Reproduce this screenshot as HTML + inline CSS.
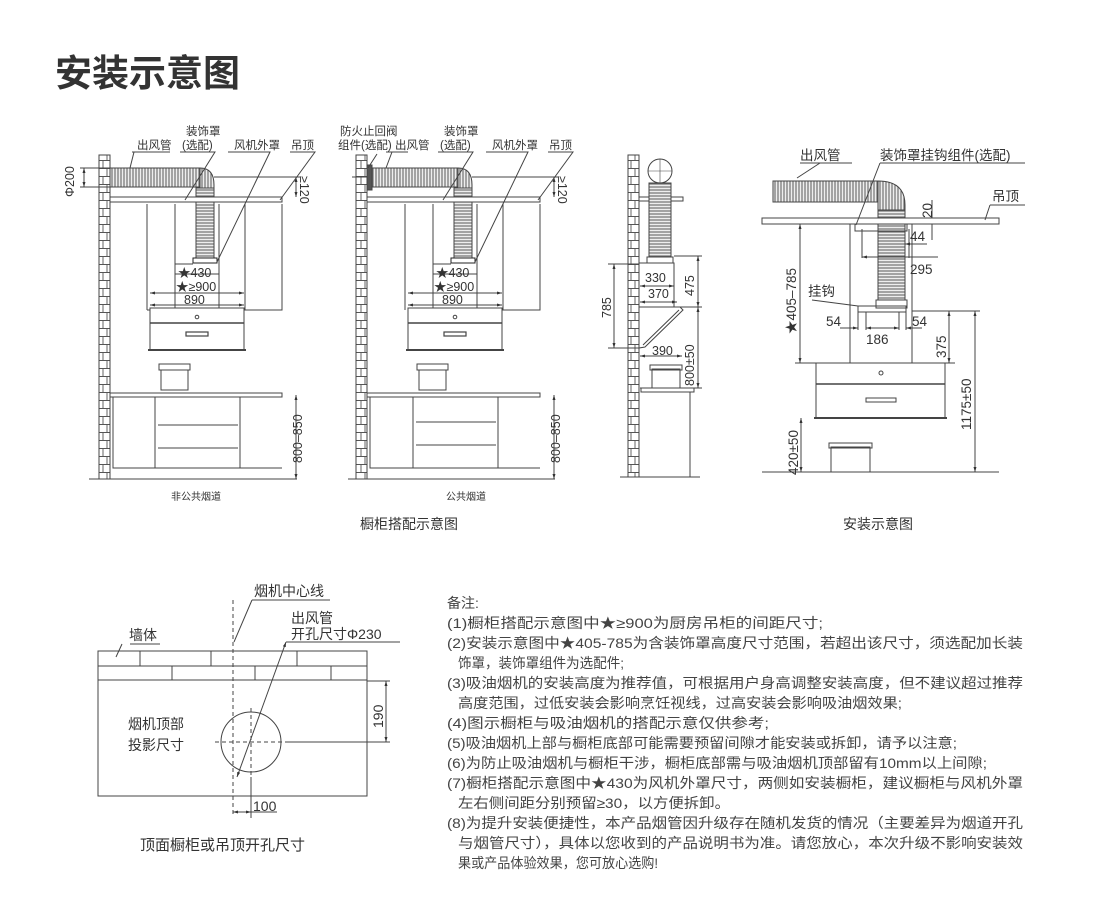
<!DOCTYPE html>
<html><head><meta charset="utf-8"><style>
html,body{margin:0;padding:0;background:#fff;}
svg{display:block;font-family:"Liberation Sans","Noto Sans CJK SC",sans-serif;}
</style></head><body>
<svg width="1100" height="908" viewBox="0 0 1100 908" xmlns="http://www.w3.org/2000/svg">
<defs>
<pattern id="brick" x="0" y="0" width="11" height="16" patternUnits="userSpaceOnUse">
<rect width="11" height="16" fill="#fff"/>
<path d="M0 0.5H11M0 8.5H11M4 0V8M8 8V16" stroke="#555" stroke-width="0.9" fill="none"/>
</pattern>
<pattern id="ribH" width="3" height="10" patternUnits="userSpaceOnUse">
<rect width="3" height="10" fill="#eee"/><path d="M1 0V10" stroke="#666" stroke-width="1.1"/>
</pattern>
<pattern id="ribV" width="10" height="3" patternUnits="userSpaceOnUse">
<rect width="10" height="3" fill="#eee"/><path d="M0 1H10" stroke="#666" stroke-width="1.1"/>
</pattern>
<marker id="a" viewBox="0 0 10 10" refX="10" refY="5" markerWidth="5" markerHeight="5" orient="auto-start-reverse"><path d="M0 2L10 5L0 8z" fill="#333"/></marker>
</defs>

<text x="55" y="86" font-size="37" font-weight="bold" fill="#333">安装示意图</text>

<g id="d1" stroke="#444" stroke-width="1" fill="none">
<rect x="99" y="155" width="11" height="324" fill="url(#brick)"/>
<line x1="89" y1="479" x2="297" y2="479"/>
<rect x="110" y="168" width="90" height="19" fill="url(#ribH)"/>
<path d="M200 168 Q214 168 214 185 L214 188 L196 188 L196 187 L200 187 Z" fill="url(#ribH)"/>
<rect x="196" y="188" width="18" height="70" fill="url(#ribV)"/>
<rect x="193" y="258" width="24" height="5" fill="#fff" stroke="#222"/>
<rect x="110" y="197" width="172" height="5" fill="#fff"/>
<path d="M147 204V310M147 310H150M175 204V308M219 204V308M245 204V310H282V204"/>
<path d="M175 264H193M175 274H219"/>
<line x1="150" y1="293" x2="244" y2="293" marker-start="url(#a)" marker-end="url(#a)"/>
<line x1="150" y1="305" x2="244" y2="305" marker-start="url(#a)" marker-end="url(#a)"/>
<rect x="150" y="308" width="94" height="42" fill="#fff"/>
<line x1="150" y1="323" x2="244" y2="323" stroke-width="1.6"/>
<line x1="148" y1="350" x2="246" y2="350" stroke-width="2"/>
<circle cx="197" cy="317" r="1.8"/>
<rect x="186" y="332" width="22" height="4" stroke-width="1.2"/>
<rect x="161" y="370" width="27" height="20"/><rect x="159" y="364" width="31" height="6"/>
<rect x="110" y="393" width="172" height="4" fill="#fff"/>
<path d="M113 397V468H282M155 397V468M240 397V468M158 425H238M158 448H238"/>
<line x1="296" y1="395" x2="296" y2="479" marker-start="url(#a)" marker-end="url(#a)"/>
<line x1="80" y1="168" x2="110" y2="168"/><line x1="80" y1="187" x2="110" y2="187"/>
<line x1="84" y1="168" x2="84" y2="187" marker-start="url(#a)" marker-end="url(#a)"/>
<line x1="214" y1="177" x2="300" y2="177"/>
<line x1="296" y1="177" x2="296" y2="197" marker-start="url(#a)" marker-end="url(#a)"/>
<path d="M132 152H170M134 152L130 168M180 152H215L185 200M228 152H270L217 262M290 152H315L280 200"/>
</g>
<g font-size="11.5" fill="#333">
<text x="137" y="149">出风管</text>
<text x="186" y="135">装饰罩</text><text x="182" y="149">(选配)</text>
<text x="234" y="149">风机外罩</text><text x="291" y="149">吊顶</text>
<text transform="translate(74,197) rotate(-90)" font-size="12.5">Φ200</text>
<text transform="translate(300,176) rotate(90)" font-size="12.5">≥120</text>
<g font-size="12.5"><text x="178" y="277">★430</text><text x="176" y="291">★≥900</text><text x="184" y="304">890</text>
<text transform="translate(302,463) rotate(-90)">800–850</text></g>
<text x="171" y="500" font-size="10">非公共烟道</text>
</g>

<g transform="translate(258,0)">
<g stroke="#444" stroke-width="1" fill="none">
<rect x="98" y="155" width="11" height="324" fill="url(#brick)"/>
<line x1="90" y1="479" x2="297" y2="479"/>
<rect x="109" y="165" width="5" height="25" fill="#555"/>
<rect x="114" y="168" width="86" height="19" fill="url(#ribH)"/>
<path d="M200 168 Q214 168 214 185 L214 188 L196 188 L196 187 L200 187 Z" fill="url(#ribH)"/>
<rect x="196" y="188" width="18" height="70" fill="url(#ribV)"/>
<rect x="193" y="258" width="24" height="5" fill="#fff" stroke="#222"/>
<rect x="109" y="197" width="173" height="5" fill="#fff"/>
<path d="M109 204V310M147 204V310M175 204V308M219 204V308M245 204V310H282V204"/>
<path d="M175 264H193M175 274H219"/>
<line x1="150" y1="293" x2="244" y2="293" marker-start="url(#a)" marker-end="url(#a)"/>
<line x1="150" y1="305" x2="244" y2="305" marker-start="url(#a)" marker-end="url(#a)"/>
<rect x="150" y="308" width="94" height="42" fill="#fff"/>
<line x1="150" y1="323" x2="244" y2="323" stroke-width="1.6"/>
<line x1="148" y1="350" x2="246" y2="350" stroke-width="2"/>
<circle cx="197" cy="317" r="1.8"/>
<rect x="186" y="332" width="22" height="4" stroke-width="1.2"/>
<rect x="161" y="370" width="27" height="20"/><rect x="159" y="364" width="31" height="6"/>
<rect x="109" y="393" width="173" height="4" fill="#fff"/>
<path d="M112 397V468H282M155 397V468M240 397V468M158 422H238M158 445H238"/>
<line x1="296" y1="395" x2="296" y2="479" marker-start="url(#a)" marker-end="url(#a)"/>
<line x1="94" y1="177" x2="109" y2="177"/>
<line x1="214" y1="177" x2="300" y2="177"/>
<line x1="296" y1="177" x2="296" y2="197" marker-start="url(#a)" marker-end="url(#a)"/>
<path d="M119 154L110 168M128 152H150M134 152L128 168M180 152H215L185 200M228 152H270L217 262M290 152H315L280 200"/>
</g>
<g font-size="11.5" fill="#333">
<text x="82" y="135">防火止回阀</text><text x="80" y="149">组件(选配)</text>
<text x="137" y="149">出风管</text>
<text x="186" y="135">装饰罩</text><text x="182" y="149">(选配)</text>
<text x="234" y="149">风机外罩</text><text x="291" y="149">吊顶</text>
<g font-size="12.5"><text transform="translate(300,176) rotate(90)">≥120</text>
<text x="178" y="277">★430</text><text x="176" y="291">★≥900</text><text x="184" y="304">890</text>
<text transform="translate(302,463) rotate(-90)">800–850</text></g>
<text x="188" y="500" font-size="10">公共烟道</text>
</g>
</g>

<g stroke="#444" stroke-width="1" fill="none">
<rect x="628" y="155" width="11" height="322" fill="url(#brick)"/>
<line x1="620" y1="477" x2="700" y2="477"/>
<circle cx="660" cy="171" r="12"/><path d="M648 171H672M660 159V183" stroke-width="0.6"/>
<rect x="639" y="197" width="44" height="4" fill="#fff"/>
<rect x="649" y="183" width="22" height="75" fill="url(#ribV)"/>
<rect x="647" y="257" width="26" height="6" fill="#fff"/>
<rect x="639" y="263" width="35" height="44"/>
<path d="M639 307H680L683 310L645 347L639 348Z M643 345L679 310"/>
<line x1="614" y1="264" x2="614" y2="348" marker-start="url(#a)" marker-end="url(#a)"/>
<path d="M608 264H639M608 348H639"/>
<line x1="640" y1="286" x2="674" y2="286" marker-start="url(#a)" marker-end="url(#a)"/>
<line x1="640" y1="302" x2="677" y2="302" marker-start="url(#a)" marker-end="url(#a)"/>
<line x1="640" y1="356" x2="682" y2="356" marker-start="url(#a)" marker-end="url(#a)"/>
<path d="M674 256H702M680 307H702M640 388H702"/>
<line x1="698" y1="256" x2="698" y2="307" marker-start="url(#a)" marker-end="url(#a)"/>
<line x1="698" y1="307" x2="698" y2="388" marker-start="url(#a)" marker-end="url(#a)"/>
<rect x="652" y="369" width="28" height="20"/><rect x="650" y="365" width="32" height="5"/>
<rect x="641" y="388" width="53" height="4" fill="#fff"/>
<path d="M690 392V477"/>
</g>
<g font-size="12.5" fill="#333">
<text x="645" y="282">330</text><text x="648" y="298">370</text><text x="652" y="355">390</text>
<text transform="translate(611,318) rotate(-90)">785</text>
<text transform="translate(694,296) rotate(-90)">475</text>
<text transform="translate(694,386) rotate(-90)">800±50</text>
</g>

<g stroke="#444" stroke-width="1" fill="none">
<rect x="773" y="181" width="105" height="21" fill="url(#ribH)"/>
<path d="M878 181 Q905 181 905 205 L905 210 L878 210 L878 202 Z" fill="url(#ribH)"/>
<rect x="878" y="210" width="27" height="90" fill="url(#ribV)"/>
<rect x="876" y="300" width="31" height="8" fill="#fff"/>
<rect x="762" y="218" width="237" height="6" fill="#fff"/>
<rect x="855" y="224" width="52" height="7"/>
<path d="M850 224V363M912 224V363"/>
<rect x="858" y="306" width="48" height="6"/>
<rect x="816" y="363" width="129" height="55" fill="#fff"/>
<line x1="816" y1="384" x2="945" y2="384" stroke-width="1.6"/>
<line x1="814" y1="418" x2="947" y2="418" stroke-width="2"/>
<circle cx="881" cy="373" r="2"/>
<rect x="866" y="398" width="30" height="4"/>
<rect x="831" y="447" width="39" height="25"/><rect x="829" y="443" width="43" height="5"/>
<line x1="762" y1="472" x2="999" y2="472"/>
<line x1="800" y1="224" x2="800" y2="363" marker-start="url(#a)" marker-end="url(#a)"/>
<path d="M795 363H816M795 224H850"/>
<path d="M912 311H980M945 363H955M870 472H980"/>
<line x1="949" y1="311" x2="949" y2="363" marker-start="url(#a)" marker-end="url(#a)"/>
<line x1="975" y1="311" x2="975" y2="472" marker-start="url(#a)" marker-end="url(#a)"/>
<line x1="801" y1="418" x2="801" y2="472" marker-start="url(#a)" marker-end="url(#a)"/>
<path d="M932 200V218M932 224V240"/>
<path d="M862 229V258M909 229V258"/>
<line x1="905" y1="244" x2="927" y2="244" marker-start="url(#a)"/>
<line x1="862" y1="257" x2="938" y2="257" marker-start="url(#a)"/>
<path d="M858 312V330M866 312V330M899 312V330M906 312V330"/>
<line x1="840" y1="328" x2="858" y2="328" marker-end="url(#a)"/>
<line x1="866" y1="328" x2="899" y2="328" marker-start="url(#a)" marker-end="url(#a)"/>
<line x1="922" y1="328" x2="906" y2="328" marker-end="url(#a)"/>
<path d="M800 163H852M820 163L797 178M880 163H1025M880 163L856 225M990 205H1025M990 205L985 220M812 300L858 306"/>
</g>
<g font-size="13.5" fill="#333">
<text x="800" y="160">出风管</text><text x="880" y="160">装饰罩挂钩组件(选配)</text>
<text x="992" y="201">吊顶</text>
<text transform="translate(932,218) rotate(-90)">20</text>
<text x="910" y="241">44</text><text x="910" y="274">295</text>
<text x="808" y="296">挂钩</text>
<text x="826" y="326">54</text><text x="866" y="344">186</text><text x="912" y="326">54</text>
<text transform="translate(796,334) rotate(-90)">★405–785</text>
<text transform="translate(946,358) rotate(-90)">375</text>
<text transform="translate(971,430) rotate(-90)">1175±50</text>
<text transform="translate(798,475) rotate(-90)">420±50</text>
</g>

<g font-size="14" fill="#333">
<text x="360" y="529">橱柜搭配示意图</text>
<text x="843" y="529">安装示意图</text>
</g>

<g stroke="#444" stroke-width="1" fill="none">
<rect x="98" y="651" width="269" height="145"/>
<path d="M98 666H367M98 680H367M140 651V666M211 651V666M297 651V666M172 666V680M255 666V680M331 666V680"/>
<line x1="233" y1="600" x2="233" y2="816" stroke-dasharray="4,3"/>
<circle cx="251" cy="742" r="30"/>
<path d="M215 742H285M251 708V777" stroke-dasharray="4,3"/>
<path d="M285 742H390M367 681H390M251 777V818"/>
<line x1="386" y1="681" x2="386" y2="742" marker-start="url(#a)" marker-end="url(#a)"/>
<line x1="233" y1="812" x2="251" y2="812" marker-start="url(#a)" marker-end="url(#a)"/>
<path d="M251 812H277"/>
<line x1="286" y1="642" x2="237" y2="777" marker-start="url(#a)" marker-end="url(#a)"/>
<path d="M286 642H400M252 600H330M252 600L234 642M130 644H160M122 644L116 657"/>
</g>
<g font-size="14" fill="#333">
<text x="254" y="596">烟机中心线</text>
<text x="291" y="623">出风管</text><text x="291" y="639">开孔尺寸Φ230</text>
<text x="129" y="640">墙体</text>
<text x="128" y="729">烟机顶部</text><text x="128" y="750">投影尺寸</text>
<text transform="translate(383,728) rotate(-90)">190</text>
<text x="253" y="811">100</text>
<text x="140" y="850" font-size="15">顶面橱柜或吊顶开孔尺寸</text>
</g>

<g font-size="14" fill="#444">
<text x="447" y="608">备注:</text>
<text x="447" y="628" textLength="376" lengthAdjust="spacingAndGlyphs">(1)橱柜搭配示意图中★≥900为厨房吊柜的间距尺寸;</text>
<text x="447" y="648" textLength="576" lengthAdjust="spacingAndGlyphs">(2)安装示意图中★405-785为含装饰罩高度尺寸范围，若超出该尺寸，须选配加长装</text>
<text x="458" y="668" textLength="166" lengthAdjust="spacingAndGlyphs">饰罩，装饰罩组件为选配件;</text>
<text x="447" y="688" textLength="576" lengthAdjust="spacingAndGlyphs">(3)吸油烟机的安装高度为推荐值，可根据用户身高调整安装高度，但不建议超过推荐</text>
<text x="458" y="708" textLength="444" lengthAdjust="spacingAndGlyphs">高度范围，过低安装会影响烹饪视线，过高安装会影响吸油烟效果;</text>
<text x="447" y="728" textLength="322" lengthAdjust="spacingAndGlyphs">(4)图示橱柜与吸油烟机的搭配示意仅供参考;</text>
<text x="447" y="748" textLength="510" lengthAdjust="spacingAndGlyphs">(5)吸油烟机上部与橱柜底部可能需要预留间隙才能安装或拆卸，请予以注意;</text>
<text x="447" y="768" textLength="540" lengthAdjust="spacingAndGlyphs">(6)为防止吸油烟机与橱柜干涉，橱柜底部需与吸油烟机顶部留有10mm以上间隙;</text>
<text x="447" y="788" textLength="576" lengthAdjust="spacingAndGlyphs">(7)橱柜搭配示意图中★430为风机外罩尺寸，两侧如安装橱柜，建议橱柜与风机外罩</text>
<text x="458" y="808" textLength="272" lengthAdjust="spacingAndGlyphs">左右侧间距分别预留≥30，以方便拆卸。</text>
<text x="447" y="828" textLength="576" lengthAdjust="spacingAndGlyphs">(8)为提升安装便捷性，本产品烟管因升级存在随机发货的情况（主要差异为烟道开孔</text>
<text x="458" y="848" textLength="565" lengthAdjust="spacingAndGlyphs">与烟管尺寸），具体以您收到的产品说明书为准。请您放心，本次升级不影响安装效</text>
<text x="458" y="868" textLength="200" lengthAdjust="spacingAndGlyphs">果或产品体验效果，您可放心选购!</text>
</g>
</svg>
</body></html>
